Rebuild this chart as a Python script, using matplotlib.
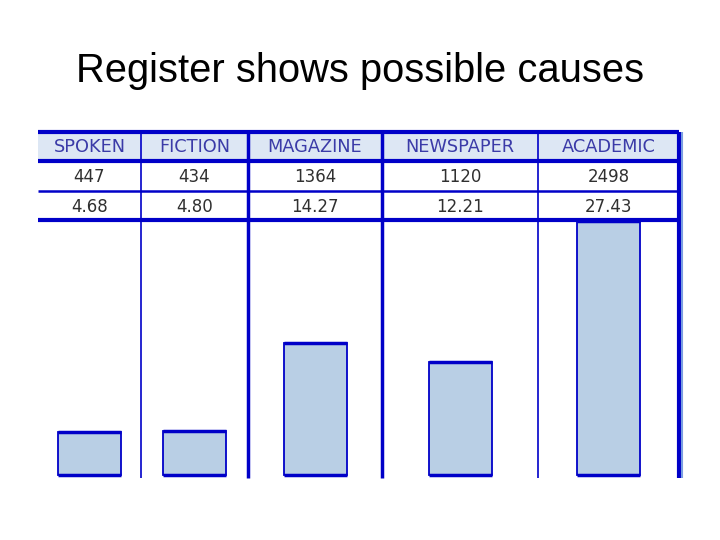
import matplotlib.pyplot as plt
from matplotlib.patches import Rectangle

# data
registers = ["SPOKEN", "FICTION", "MAGAZINE", "NEWSPAPER", "ACADEMIC"]
freq = [447, 434, 1364, 1120, 2498]
per_mil = [4.68, 4.80, 14.27, 12.21, 27.43]
per_mil_labels = ["4.68", "4.80", "14.27", "12.21", "27.43"]

# layout (pixels of a 720x540 slide)
W, H = 720, 540
col_edges = [38, 141, 248, 382, 538, 679]
col_lw = [None, 1.2, 2.5, 2.5, 1.2, 3.0]
tab_top, head_bot, row1_bot, tab_bot = 132, 161, 191, 220
chart_bot = 478
blue = "#0000c8"
fill = "#b9cfe5"

fig = plt.figure(figsize=(7.2, 5.4), dpi=100)
bg = fig.add_axes([0, 0, 1, 1])
bg.set_xlim(0, W)
bg.set_ylim(H, 0)
bg.axis("off")

bg.text(360, 71, "Register shows possible causes", ha="center", va="center",
        fontsize=28.7, family="Liberation Sans", color="black")

# header band
bg.add_patch(Rectangle((col_edges[0], tab_top), col_edges[-1] - col_edges[0],
                       head_bot - tab_top, facecolor="#dde7f4", edgecolor="none"))

# horizontal rules
for y, lw in [(tab_top, 3.0), (head_bot, 3.0), (row1_bot, 1.8), (tab_bot, 3.0)]:
    bg.plot([col_edges[0], col_edges[-1]], [y, y], color=blue, lw=lw,
            solid_capstyle="butt")

# vertical dividers
for x, lw in zip(col_edges[1:], col_lw[1:]):
    bg.plot([x, x], [tab_top, chart_bot], color=blue, lw=lw, solid_capstyle="butt")
bg.plot([col_edges[-1] + 2.5, col_edges[-1] + 2.5], [tab_top, chart_bot],
        color="#7a9fe0", lw=1.5, solid_capstyle="butt")

centers = [(a + b) / 2 for a, b in zip(col_edges[:-1], col_edges[1:])]
for cx, name, f, lab in zip(centers, registers, freq, per_mil_labels):
    bg.text(cx, (tab_top + head_bot) / 2 + 1, name, ha="center", va="center",
            fontsize=12.8, color="#3b3ba8", family="DejaVu Sans")
    bg.text(cx, (head_bot + row1_bot) / 2 + 1, str(f), ha="center", va="center",
            fontsize=12, color="#303030", family="DejaVu Sans")
    bg.text(cx, (row1_bot + tab_bot) / 2 + 1, lab, ha="center", va="center",
            fontsize=12, color="#303030", family="DejaVu Sans")

# bar area
bar_zero = 475
px_per_unit = 9.25
ax = fig.add_axes([col_edges[0] / W, 1 - chart_bot / H,
                   (col_edges[-1] - col_edges[0]) / W, (chart_bot - tab_bot) / H])
ax.set_xlim(col_edges[0], col_edges[-1])
ax.set_ylim(-(chart_bot - bar_zero) / px_per_unit, (bar_zero - tab_bot) / px_per_unit)
ax.axis("off")
ax.patch.set_alpha(0)
ax.bar(centers, per_mil, width=63, bottom=0, color=fill, edgecolor=blue, lw=1.3)
ax.hlines(per_mil, [c - 31.5 for c in centers], [c + 31.5 for c in centers],
          color=blue, lw=2.5)
ax.hlines([0] * len(centers), [c - 31.5 for c in centers],
          [c + 31.5 for c in centers], color=blue, lw=2.5)

fig.savefig("out.png", dpi=100)
